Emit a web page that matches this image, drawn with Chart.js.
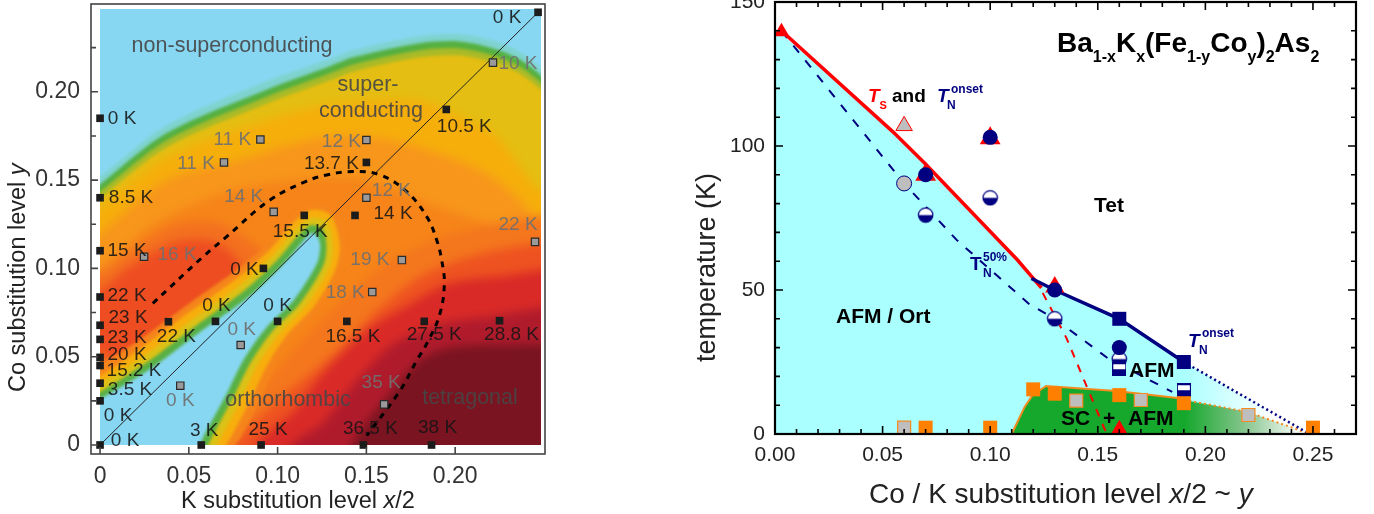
<!DOCTYPE html>
<html>
<head>
<meta charset="utf-8">
<title>phase diagrams</title>
<script src="https://cdn.jsdelivr.net/npm/chart.js@4/dist/chart.umd.min.js"></script>
<style>
  html, body { margin: 0; padding: 0; background: #fff; overflow: hidden; }
  canvas { position: absolute; display: block; }
  #map_clip { position: absolute; left: 100px; top: 9px; width: 441px; height: 436px; overflow: hidden; }
  #map_base { left: -100px; top: -29px; filter: blur(5px); }
  #map_ring { left: -100px; top: -29px; filter: blur(1.8px); }
  #map_over { left: 0; top: 0; }
  #phase { left: 600px; top: 0; }
</style>
</head>
<body>
<div id="map_clip">
  <canvas id="map_base" width="600" height="514"></canvas>
  <canvas id="map_ring" width="600" height="514"></canvas>
</div>
<canvas id="map_over" width="600" height="514"></canvas>
<canvas id="phase" width="774" height="514"></canvas>
<script>
// left panel, axis ticks
const mapXTicks = [0, 0.05, 0.10, 0.15, 0.20];
const mapXLabels = ['0', '0.05', '0.10', '0.15', '0.20'];
const mapYTicks = [0, 0.025, 0.05, 0.075, 0.10, 0.125, 0.15, 0.175, 0.20, 0.225];
const mapYLabels = ['0', '', '0.05', '', '0.10', '', '0.15', '', '0.20', ''];

// left panel, measured samples
const blackX = [0, 0, 0, 0, 0, 0, 0, 0, 0, 0, 0, 0.0385, 0.065, 0.10, 0.092, 0.057, 0.0907, 0.115, 0.195, 0.2467, 0.15, 0.1436, 0.139, 0.1826, 0.225, 0.1483, 0.1867];
const blackY = [0.185, 0.14, 0.11, 0.0838, 0.0678, 0.0598, 0.0496, 0.045, 0.035, 0.025, 0, 0.0698, 0.07, 0.07, 0.10, 0, 0, 0.13, 0.19, 0.245, 0.16, 0.13, 0.07, 0.07, 0.0704, 0, 0];
const blackLabels = ['0 K', '8.5 K', '15 K', '22 K', '23 K', '23 K', '20 K', '15.2 K', '3.5 K', '0 K', '0 K', '22 K', '0 K', '0 K', '0 K', '3 K', '25 K', '15.5 K', '10.5 K', '0 K', '13.7 K', '14 K', '16.5 K', '27.5 K', '28.8 K', '36.5 K', '38 K'];
const grayX = [0.0903, 0.0698, 0.0978, 0.0248, 0.0792, 0.0452, 0.15, 0.15, 0.2213, 0.245, 0.17, 0.1533, 0.16];
const grayY = [0.173, 0.16, 0.132, 0.1066, 0.0566, 0.0336, 0.1727, 0.14, 0.2165, 0.115, 0.1047, 0.0866, 0.023];
const grayLabels = ['11 K', '11 K', '14 K', '16 K', '0 K', '0 K', '12 K', '12 K', '10 K', '22 K', '19 K', '18 K', '35 K'];
const diagonalX = [0, 0.2467];
const diagonalY = [0, 0.245];
const domeX = [0.0297, 0.058, 0.0713, 0.0957, 0.1154, 0.1276, 0.1426, 0.1577, 0.1727, 0.184, 0.1896, 0.1924, 0.1939, 0.1914, 0.1849, 0.1783, 0.1689, 0.1502];
const domeY = [0.0802, 0.1066, 0.118, 0.1387, 0.149, 0.1529, 0.1548, 0.1529, 0.1434, 0.1293, 0.1161, 0.1047, 0.0912, 0.0742, 0.0591, 0.0477, 0.0307, 0.0053];

// left panel, colour contours, [x, y] along each boundary
// the "above" ones close over the top of the map, the rest close under it
const aboveTeal = [[-0.02, 0.138], [0, 0.152], [0.0375, 0.181], [0.0938, 0.206], [0.1295, 0.2185], [0.1426, 0.2235], [0.18, 0.2315], [0.2027, 0.2325], [0.2234, 0.2285], [0.2365, 0.2225], [0.2477, 0.214], [0.27, 0.19], [0.30, 0.30], [-0.05, 0.30]];
const aboveGreen = [[-0.02, 0.132], [0, 0.1475], [0.0375, 0.1766], [0.0938, 0.2012], [0.1295, 0.2145], [0.1426, 0.2195], [0.18, 0.2275], [0.2027, 0.2285], [0.2234, 0.224], [0.2365, 0.2182], [0.2477, 0.2098], [0.27, 0.187], [0.30, 0.30], [-0.05, 0.30]];
const aboveOlive = [[-0.02, 0.128], [0, 0.1435], [0.0375, 0.1726], [0.0938, 0.1972], [0.1295, 0.2105], [0.1426, 0.2155], [0.18, 0.2235], [0.2027, 0.2245], [0.2234, 0.22], [0.2365, 0.2142], [0.2477, 0.2058], [0.27, 0.183], [0.30, 0.30], [-0.05, 0.30]];
const aboveGold = [[-0.02, 0.124], [0, 0.1395], [0.0375, 0.1686], [0.0938, 0.1932], [0.1295, 0.2065], [0.1426, 0.2115], [0.18, 0.2195], [0.2027, 0.2205], [0.2234, 0.216], [0.2365, 0.2102], [0.2477, 0.2018], [0.27, 0.179], [0.30, 0.30], [-0.05, 0.30]];
const contourAmber = [[-0.02, 0.12], [0, 0.135], [0.0375, 0.163], [0.0938, 0.184], [0.1295, 0.193], [0.18, 0.195], [0.2, 0.187], [0.2215, 0.1765], [0.235, 0.16], [0.246, 0.146], [0.27, 0.13], [0.27, -0.02], [-0.02, -0.02]];
const contourOrange = [[-0.02, 0.105], [0, 0.12], [0.0375, 0.15], [0.0788, 0.1615], [0.13, 0.175], [0.17, 0.171], [0.214, 0.1557], [0.2365, 0.1387], [0.2477, 0.125], [0.27, 0.11], [0.27, -0.02], [-0.02, -0.02]];
const contourDeep = [[-0.02, 0.09], [0, 0.10], [0.03, 0.125], [0.07, 0.143], [0.11, 0.15], [0.15, 0.15], [0.19, 0.135], [0.22, 0.125], [0.25, 0.118], [0.27, 0.11], [0.27, -0.02], [-0.02, -0.02]];
const blobOrange = [[-0.02, 0.10], [0, 0.098], [0.015, 0.108], [0.04, 0.124], [0.065, 0.126], [0.085, 0.115], [0.10, 0.10], [0.09, 0.085], [0.05, 0.05], [0.02, 0.03], [-0.02, 0.035]];
const blobRed = [[-0.02, 0.085], [0, 0.088], [0.015, 0.10], [0.04, 0.114], [0.06, 0.116], [0.075, 0.108], [0.082, 0.092], [0.06, 0.06], [0.02, 0.04], [0, 0.052], [-0.02, 0.05]];
const lowerDeep = [[0.06, -0.02], [0.07, 0], [0.09, 0.03], [0.115, 0.06], [0.14, 0.085], [0.165, 0.105], [0.20, 0.12], [0.25, 0.13], [0.27, 0.13], [0.27, -0.02]];
const lowerBright = [[0.065, -0.02], [0.075, 0], [0.10, 0.025], [0.13, 0.05], [0.155, 0.075], [0.18, 0.095], [0.21, 0.107], [0.25, 0.115], [0.27, 0.118], [0.27, -0.02]];
const lowerRed = [[0.08, -0.02], [0.088, 0], [0.11, 0.02], [0.125, 0.04], [0.15, 0.065], [0.175, 0.08], [0.195, 0.091], [0.22, 0.095], [0.27, 0.095], [0.27, -0.02]];
const lowerCrimson = [[0.10, -0.02], [0.108, 0], [0.125, 0.012], [0.145, 0.037], [0.165, 0.057], [0.19, 0.068], [0.215, 0.072], [0.27, 0.074], [0.27, -0.02]];
const lowerDark = [[0.135, -0.02], [0.1426, 0.002], [0.1615, 0.027], [0.18, 0.048], [0.199, 0.0555], [0.2477, 0.0572], [0.27, 0.058], [0.27, -0.02]];
const holeOrange = [[-0.02, 0.038], [0, 0.046], [0.02, 0.058], [0.05, 0.08], [0.078, 0.10], [0.095, 0.115], [0.107, 0.129], [0.119, 0.137], [0.132, 0.134], [0.139, 0.114], [0.135, 0.097], [0.123, 0.077], [0.109, 0.061], [0.098, 0.044], [0.09, 0.025], [0.079, 0.004], [0.076, 0], [0.07, -0.02], [-0.02, -0.02]];
const holeAmber = [[-0.02, 0.03], [0, 0.039], [0.022, 0.054], [0.05, 0.075], [0.078, 0.095], [0.096, 0.111], [0.108, 0.125], [0.119, 0.133], [0.13, 0.13], [0.135, 0.113], [0.132, 0.098], [0.12, 0.078], [0.105, 0.062], [0.094, 0.045], [0.085, 0.026], [0.074, 0.005], [0.071, 0], [0.065, -0.02], [-0.02, -0.02]];
const holeGold = [[-0.02, 0.025], [0, 0.035], [0.024, 0.05], [0.052, 0.071], [0.08, 0.0915], [0.098, 0.108], [0.11, 0.122], [0.119, 0.1285], [0.128, 0.126], [0.131, 0.112], [0.129, 0.10], [0.116, 0.079], [0.101, 0.063], [0.089, 0.046], [0.08, 0.027], [0.069, 0.006], [0.066, 0], [0.06, -0.02], [-0.02, -0.02]];
const holeGreen = [[-0.02, 0.02], [0, 0.03], [0.026, 0.0465], [0.054, 0.0675], [0.082, 0.088], [0.10, 0.105], [0.112, 0.119], [0.119, 0.1245], [0.1255, 0.122], [0.1275, 0.112], [0.1255, 0.101], [0.1125, 0.08], [0.0975, 0.065], [0.085, 0.047], [0.0755, 0.028], [0.064, 0.0062], [0.061, 0], [0.055, -0.02], [-0.02, -0.02]];
const holeBlue = [[-0.02, 0.016], [0, 0.026], [0.0282, 0.043], [0.0563, 0.064], [0.0845, 0.0845], [0.1033, 0.1025], [0.114, 0.115], [0.119, 0.12], [0.1225, 0.118], [0.124, 0.112], [0.122, 0.1025], [0.1088, 0.0817], [0.0938, 0.0667], [0.0807, 0.048], [0.0713, 0.029], [0.059, 0.0062], [0.0563, 0], [0.05, -0.02], [-0.02, -0.02]];

// right panel, axis ticks
const phaseXTicks = [0, 0.01, 0.02, 0.03, 0.04, 0.05, 0.06, 0.07, 0.08, 0.09, 0.10, 0.11, 0.12, 0.13, 0.14, 0.15, 0.16, 0.17, 0.18, 0.19, 0.20, 0.21, 0.22, 0.23, 0.24, 0.25, 0.26, 0.27];
const phaseXLabels = ['0.00', '', '', '', '', '0.05', '', '', '', '', '0.10', '', '', '', '', '0.15', '', '', '', '', '0.20', '', '', '', '', '0.25', '', ''];
const phaseYTicks = [0, 10, 20, 30, 40, 50, 60, 70, 80, 90, 100, 110, 120, 130, 140, 150];
const phaseYLabels = ['0', '', '', '', '', '50', '', '', '', '', '100', '', '', '', '', '150'];

// right panel, phase lines
const tsLine = [[0.003, 140], [0.0547, 105], [0.0696, 94], [0.1127, 60.4], [0.1238, 50.7]];
const tnLine = [[0.1192, 54], [0.13, 50], [0.16, 40], [0.19, 25]];
const tnTail = [[0.19, 25], [0.2468, 0.7]];
const tn50Line = [[0.003, 140], [0.06, 87], [0.0844, 67.4], [0.1183, 45], [0.13, 40], [0.1545, 26.4], [0.1846, 14.6]];
const tsDrop = [[0.1244, 49], [0.1354, 33.4], [0.153, 2], [0.1545, 0]];
const afmArea = [[0, 141], [0.0547, 105], [0.0696, 94], [0.1127, 60.4], [0.1192, 54], [0.13, 50], [0.16, 40], [0.19, 25], [0.2468, 0.7], [0.25, 0], [0, 0]];
const scLine = [[0.11, 0], [0.116, 9.4], [0.1197, 13.5], [0.126, 16.7], [0.1586, 14.9], [0.188, 12.4], [0.1925, 11.5]];
const scTail = [[0.1925, 11.5], [0.2194, 7.7], [0.2435, 1.4], [0.247, 0]];
const scArea = [[0.11, 0], [0.116, 9.4], [0.1197, 13.5], [0.126, 16.7], [0.1586, 14.9], [0.188, 12.4], [0.1925, 11.5], [0.2194, 7.7], [0.2435, 1.4], [0.247, 0]];

// right panel, markers
const tsTriX = [0.003, 0.07, 0.10, 0.13, 0.16];
const tsTriY = [139.7, 90, 102.7, 51, 1.8];
const tsTriGrayX = [0.06];
const tsTriGrayY = [107];
const tnCircleX = [0.07, 0.10, 0.13, 0.16];
const tnCircleY = [90, 103, 50, 30];
const tnCircleGrayX = [0.06];
const tnCircleGrayY = [87];
const tn50CircleX = [0.07, 0.10, 0.13, 0.16];
const tn50CircleY = [76, 82, 40, 26];
const tnSquareX = [0.16, 0.19];
const tnSquareY = [40, 25];
const tn50SquareX = [0.16, 0.19];
const tn50SquareY = [22.5, 15.2];
const tcSquareX = [0.07, 0.10, 0.12, 0.13, 0.16, 0.19, 0.25];
const tcSquareY = [2.2, 2.2, 15.5, 14, 13.5, 10.7, 2.2];
const tcGrayX = [0.06, 0.14, 0.17, 0.22];
const tcGrayY = [2.2, 11.6, 11.8, 6.6];

const NAVY = '#000080';
const toXY = (pts) => pts.map((p) => ({x: p[0], y: p[1]}));
const zip = (xs, ys) => xs.map((x, i) => ({x: x, y: ys[i]}));

// axis sizes are fixed and the half-label margins dropped, so the plot box lands where it should
const fixWidth = (w) => (s) => { s.width = w; s.paddingTop = 0; s.paddingBottom = 0; };
const fixHeight = (h) => (s) => { s.height = h; s.paddingLeft = 0; s.paddingRight = 0; };

// ---------- heat layers, two canvases under the overlay ----------
// base is blurred wide for the soft colour fields, ring keeps the narrow green edges
const baseLayers = [
  [contourAmber, '#f6ae0b'], [contourOrange, '#f7961b'], [contourDeep, '#f68418'],
  [blobOrange, '#f3701f'], [blobRed, '#ee4d21'],
  [lowerDeep, '#f4761d'], [lowerBright, '#ee5220'], [lowerRed, '#d92a27'], [lowerCrimson, '#b01b2c'], [lowerDark, '#7a1420']
];
const ringLayers = [
  [aboveGold, '#a8ba28'], [aboveOlive, '#55b040'], [aboveGreen, '#7fd3cf'], [aboveTeal, '#87d7f2'],
  [holeOrange, '#f5851b'], [holeAmber, '#f7ae0c'], [holeGold, '#dcc116'], [holeGreen, '#58b044'], [holeBlue, '#87d7f2']
];

function heatChart(id, layers, ground) {
  // these canvases reach past the map on every side, so the blur has no edge inside it
  return new Chart(document.getElementById(id), {
    type: 'scatter',
    data: {
      datasets: layers.map((l, i) => ({
        data: toXY(l[0]), showLine: true, fill: 'shape', backgroundColor: l[1], borderWidth: 0,
        pointRadius: 0, tension: 0.3, order: -i
      }))
    },
    plugins: [{
      id: 'ground',
      beforeDatasetsDraw(chart) {
        if (!ground) return;
        chart.ctx.fillStyle = ground;
        chart.ctx.fillRect(0, 0, 600, 514);
      }
    }],
    options: {
      responsive: false, animation: false,
      layout: {autoPadding: false, padding: {top: 5.8, right: 20.5, left: 0, bottom: 0}},
      elements: {line: {capBezierPoints: false}},
      scales: {
        x: {type: 'linear', min: -0.02, max: 0.27, grid: {display: false, drawTicks: false}, border: {display: false}, ticks: {display: false}, afterFit: fixHeight(13.7)},
        y: {type: 'linear', min: -0.02, max: 0.26, grid: {display: false, drawTicks: false}, border: {display: false}, ticks: {display: false}, afterFit: fixWidth(64.5)}
      },
      plugins: {legend: {display: false}, tooltip: {enabled: false}}
    }
  });
}
heatChart('map_base', baseLayers, '#e4be12');
heatChart('map_ring', ringLayers, null);

// ---------- left overlay ----------
const blackShift = [[22, 0], [31, 0], [27, 0], [27, -1], [28, -7], [27, -2], [27, -3], [34, 5], [30, 7], [18, 15], [25, -4], [8, 15], [1, -16], [0, -16], [-19, 1], [3, -14], [7, -15], [-4, 16], [18, 17], [-31, 5], [-35, 1], [38, -2], [6, 15], [10, 13], [12, 14], [7, -16], [6, -17]];
const grayShift = [[-28, 0], [-28, 1], [-30, -15], [33, -2], [1, -15], [0, 15], [-25, 2], [25, -7], [25, 1], [-17, -17], [-32, 0], [-27, 1], [-3, -22]];

function textRun(c, x, y, parts) {
  parts.forEach((p) => {
    c.font = p[1] + ' "Liberation Sans"';
    if (p[2]) c.fillStyle = p[2];
    c.fillText(p[0], x, y + (p[3] || 0));
    x += c.measureText(p[0]).width;
  });
}

const mapText = {
  id: 'mapText',
  afterDatasetsDraw(chart) {
    const c = chart.ctx, sx = chart.scales.x, sy = chart.scales.y, a = chart.chartArea;
    c.save();
    // frame and ticks
    c.strokeStyle = '#444'; c.lineWidth = 1.6;
    c.strokeRect(a.left, a.top, a.width, a.height);
    c.beginPath();
    mapXTicks.forEach((v) => { const p = sx.getPixelForValue(v); c.moveTo(p, a.bottom); c.lineTo(p, a.bottom - 7); });
    mapYTicks.forEach((v, i) => {
      const p = sy.getPixelForValue(v);
      c.moveTo(a.left, p); c.lineTo(a.left + (mapYLabels[i] ? 7 : 5), p);
    });
    c.stroke();
    // region names
    c.textAlign = 'center'; c.textBaseline = 'middle';
    c.font = '21.5px "Liberation Sans"'; c.fillStyle = 'rgba(70,70,70,0.9)';
    c.fillText('non-superconducting', 232, 46);
    c.fillText('super-', 368, 85);
    c.fillText('conducting', 371, 111);
    c.fillText('orthorhombic', 288, 400);
    c.fillText('tetragonal', 470, 398);
    // temperature labels
    c.font = '19px "Liberation Sans"';
    c.fillStyle = 'rgba(20,20,20,0.88)';
    blackLabels.forEach((t, i) => {
      c.fillText(t, sx.getPixelForValue(blackX[i]) + blackShift[i][0], sy.getPixelForValue(blackY[i]) + blackShift[i][1]);
    });
    c.fillStyle = 'rgba(112,112,112,0.92)';
    grayLabels.forEach((t, i) => {
      c.fillText(t, sx.getPixelForValue(grayX[i]) + grayShift[i][0], sy.getPixelForValue(grayY[i]) + grayShift[i][1]);
    });
    // axis titles
    c.textAlign = 'left'; c.textBaseline = 'alphabetic'; c.fillStyle = '#222';
    textRun(c, 181, 508, [['K substitution level ', '23.5px'], ['x', 'italic 23.5px'], ['/2', '23.5px']]);
    c.translate(25, 392);
    c.rotate(-Math.PI / 2);
    textRun(c, 0, 0, [['Co substitution level ', '23.5px'], ['y', 'italic 23.5px']]);
    c.restore();
  }
};

new Chart(document.getElementById('map_over'), {
  type: 'scatter',
  data: {
    datasets: [
      {data: zip(diagonalX, diagonalY), showLine: true, borderColor: '#222', borderWidth: 1, pointRadius: 0, order: 4},
      {data: zip(domeX, domeY), showLine: true, borderColor: '#000', borderWidth: 3, borderDash: [6, 6], tension: 0.4, pointRadius: 0, order: 3},
      {data: zip(grayX, grayY), pointStyle: 'rect', pointRadius: 5.2, pointBackgroundColor: '#9a9a9a', pointBorderColor: '#2a2a2a', pointBorderWidth: 1.2, order: 2},
      {data: zip(blackX, blackY), pointStyle: 'rect', pointRadius: 5.4, pointBackgroundColor: '#1c1c1c', pointBorderWidth: 0, order: 1}
    ]
  },
  plugins: [mapText],
  options: {
    responsive: false, animation: false,
    layout: {autoPadding: false, padding: {top: 4, right: 55, left: 0, bottom: 0}},
    scales: {
      x: {
        type: 'linear', min: -0.0051, max: 0.2506,
        grid: {display: false, drawTicks: false}, border: {display: false},
        afterBuildTicks: (s) => { s.ticks = mapXTicks.map((v) => ({value: v})); },
        afterFit: fixHeight(60),
        ticks: {
          autoSkip: false, maxRotation: 0, minRotation: 0, padding: 9, color: '#333',
          font: {family: 'Liberation Sans', size: 23},
          callback: (v, i) => mapXLabels[i]
        }
      },
      y: {
        type: 'linear', min: -0.0051, max: 0.2497,
        grid: {display: false, drawTicks: false}, border: {display: false},
        afterBuildTicks: (s) => { s.ticks = mapYTicks.map((v) => ({value: v})); },
        afterFit: fixWidth(91),
        ticks: {
          autoSkip: false, padding: 11, color: '#333',
          font: {family: 'Liberation Sans', size: 23},
          callback: (v, i) => mapYLabels[i]
        }
      }
    },
    plugins: {legend: {display: false}, tooltip: {enabled: false}}
  }
});

// ---------- right panel ----------
// half filled markers, white on top and navy below
function halfCircle() {
  const cv = document.createElement('canvas');
  cv.width = 17; cv.height = 17;
  const c = cv.getContext('2d');
  c.fillStyle = '#fff';
  c.beginPath(); c.arc(8.5, 8.5, 7.2, 0, Math.PI * 2); c.fill();
  c.fillStyle = NAVY;
  c.beginPath(); c.arc(8.5, 8.5, 7.2, 0, Math.PI); c.fill();
  c.strokeStyle = NAVY; c.lineWidth = 1.2;
  c.beginPath(); c.arc(8.5, 8.5, 7.2, 0, Math.PI * 2); c.stroke();
  return cv;
}
function halfSquare() {
  const cv = document.createElement('canvas');
  cv.width = 14; cv.height = 14;
  const c = cv.getContext('2d');
  c.fillStyle = NAVY; c.fillRect(0, 0, 14, 14);
  c.fillStyle = '#fff'; c.fillRect(1, 2, 12, 5);
  return cv;
}

const afmFill = (ctx) => {
  const sx = ctx.chart.scales.x, a = ctx.chart.chartArea;
  if (!a) return '#aaffff';
  const g = ctx.chart.ctx.createLinearGradient(sx.getPixelForValue(0.19), 0, sx.getPixelForValue(0.232), 0);
  g.addColorStop(0, '#aaffff');
  g.addColorStop(1, '#ffffff');
  return g;
};
const scFill = (ctx) => {
  const sx = ctx.chart.scales.x, a = ctx.chart.chartArea;
  if (!a) return '#16a82c';
  const g = ctx.chart.ctx.createLinearGradient(sx.getPixelForValue(0.1905), 0, sx.getPixelForValue(0.245), 0);
  g.addColorStop(0, '#16a82c');
  g.addColorStop(0.5, '#84c48c');
  g.addColorStop(1, '#ffffff');
  return g;
};

const phaseSets = [
  {data: toXY(afmArea), showLine: true, fill: 'shape', backgroundColor: afmFill, borderWidth: 0, pointRadius: 0},
  {data: toXY(scArea), showLine: true, fill: 'shape', backgroundColor: scFill, borderWidth: 0, pointRadius: 0},
  {data: toXY(tn50Line), showLine: true, borderColor: NAVY, borderWidth: 2, borderDash: [9, 10], pointRadius: 0},
  {data: toXY(tsDrop), showLine: true, borderColor: '#f00', borderWidth: 2, borderDash: [8, 8], pointRadius: 0},
  {data: toXY(scLine), showLine: true, borderColor: '#f58a1f', borderWidth: 2, pointRadius: 0},
  {data: toXY(scTail), showLine: true, borderColor: '#f58a1f', borderWidth: 2, borderDash: [2, 3], pointRadius: 0},
  {data: toXY(tnTail), showLine: true, borderColor: NAVY, borderWidth: 2.5, borderDash: [2, 3], pointRadius: 0},
  {data: toXY(tsLine), showLine: true, borderColor: '#f00', borderWidth: 3.5, pointRadius: 0},
  {data: toXY(tnLine), showLine: true, borderColor: NAVY, borderWidth: 3.5, pointRadius: 0},
  {data: zip(tsTriX, tsTriY), pointStyle: 'triangle', pointRadius: [9, 12, 12, 11, 9], pointBackgroundColor: '#f00', pointBorderWidth: 0},
  {data: zip(tsTriGrayX, tsTriGrayY), pointStyle: 'triangle', pointRadius: 9.5, pointBackgroundColor: '#bebebe', pointBorderColor: '#f00', pointBorderWidth: 1},
  {data: zip(tn50CircleX, tn50CircleY), pointStyle: halfCircle(), pointRadius: 8},
  {data: zip(tn50SquareX, tn50SquareY), pointStyle: halfSquare(), pointRadius: 8},
  {data: zip(tnCircleX, tnCircleY), pointStyle: 'circle', pointRadius: 7.5, pointBackgroundColor: NAVY, pointBorderWidth: 0},
  {data: zip(tnCircleGrayX, tnCircleGrayY), pointStyle: 'circle', pointRadius: 7.5, pointBackgroundColor: '#bebebe', pointBorderColor: NAVY, pointBorderWidth: 1},
  {data: zip(tnSquareX, tnSquareY), pointStyle: 'rect', pointRadius: 9.9, pointBackgroundColor: NAVY, pointBorderWidth: 0},
  {data: zip(tcSquareX, tcSquareY), pointStyle: 'rect', pointRadius: 9.9, pointBackgroundColor: '#ff8000', pointBorderWidth: 0},
  {data: zip(tcGrayX, tcGrayY), pointStyle: 'rect', pointRadius: 9.2, pointBackgroundColor: '#bebebe', pointBorderColor: '#f58a1f', pointBorderWidth: 1.2}
];
phaseSets.forEach((d, i) => { d.order = -i; d.clip = d.fill ? undefined : false; });

const phaseText = {
  id: 'phaseText',
  afterDatasetsDraw(chart) {
    const c = chart.ctx, sx = chart.scales.x, sy = chart.scales.y, a = chart.chartArea;
    c.save();
    // frame with inward ticks on all four sides
    c.strokeStyle = '#000'; c.lineWidth = 2.2;
    c.strokeRect(a.left, a.top, a.width, a.height);
    c.lineWidth = 1.6;
    c.beginPath();
    phaseXTicks.forEach((v, i) => {
      const p = sx.getPixelForValue(v), len = phaseXLabels[i] ? 8 : 5;
      c.moveTo(p, a.bottom); c.lineTo(p, a.bottom - len);
      c.moveTo(p, a.top); c.lineTo(p, a.top + len);
    });
    phaseYTicks.forEach((v, i) => {
      const p = sy.getPixelForValue(v), len = phaseYLabels[i] ? 8 : 5;
      c.moveTo(a.left, p); c.lineTo(a.left + len, p);
      c.moveTo(a.right, p); c.lineTo(a.right - len, p);
    });
    c.stroke();

    // this canvas starts at x = 600, the numbers below are page pixels
    c.translate(-600, 0);
    c.textAlign = 'left'; c.textBaseline = 'alphabetic';
    textRun(c, 1057, 52, [
      ['Ba', 'bold 28px', '#000'], ['1-x', 'bold 16px', '#000', 10], ['K', 'bold 28px'], ['x', 'bold 16px', '#000', 10],
      ['(Fe', 'bold 28px'], ['1-y', 'bold 16px', '#000', 10], ['Co', 'bold 28px'], ['y', 'bold 16px', '#000', 10],
      [')', 'bold 28px'], ['2', 'bold 16px', '#000', 10], ['As', 'bold 28px'], ['2', 'bold 16px', '#000', 10]
    ]);
    textRun(c, 868, 102, [['T', 'italic bold 19px', '#f00'], ['S', 'bold 11px', '#f00', 7]]);
    textRun(c, 892, 102, [['and', 'bold 19px', '#000']]);
    textRun(c, 937, 102, [['T', 'italic bold 19px', NAVY]]);
    textRun(c, 951, 93, [['onset', 'bold 12px', NAVY]]);
    textRun(c, 947, 109, [['N', 'bold 12px', NAVY]]);
    textRun(c, 970, 270, [['T', 'bold 19px', NAVY]]);
    textRun(c, 983, 261, [['50%', 'bold 12px', NAVY]]);
    textRun(c, 983, 277, [['N', 'bold 12px', NAVY]]);
    textRun(c, 1188, 347, [['T', 'italic bold 19px', NAVY]]);
    textRun(c, 1202, 337, [['onset', 'bold 12px', NAVY]]);
    textRun(c, 1199, 354, [['N', 'bold 12px', NAVY]]);
    textRun(c, 1094, 212, [['Tet', 'bold 21px', '#000']]);
    textRun(c, 836, 323, [['AFM / Ort', 'bold 21px', '#000']]);
    textRun(c, 1129, 377, [['AFM', 'bold 21px', '#000']]);
    textRun(c, 1061, 425, [['SC', 'bold 21px', '#000']]);
    textRun(c, 1103, 425, [['+', 'bold 21px', '#000']]);
    textRun(c, 1128, 425, [['AFM', 'bold 21px', '#000']]);
    // axis titles
    c.fillStyle = '#222';
    textRun(c, 869, 503, [['Co / K substitution level ', '28px'], ['x', 'italic 28px'], ['/2 ~ ', '28px'], ['y', 'italic 28px']]);
    c.translate(715, 362);
    c.rotate(-Math.PI / 2);
    textRun(c, 0, 0, [['temperature (K)', '27px']]);
    c.restore();
  }
};

new Chart(document.getElementById('phase'), {
  type: 'scatter',
  data: {datasets: phaseSets},
  plugins: [phaseText],
  options: {
    responsive: false, animation: false,
    layout: {autoPadding: false, padding: {top: 2, right: 18, left: 0, bottom: 0}},
    elements: {line: {tension: 0}},
    scales: {
      x: {
        type: 'linear', min: 0, max: 0.27,
        grid: {display: false, drawTicks: false}, border: {display: false},
        afterBuildTicks: (s) => { s.ticks = phaseXTicks.map((v) => ({value: v})); },
        afterFit: fixHeight(80),
        ticks: {
          autoSkip: false, maxRotation: 0, minRotation: 0, padding: 9, color: '#222',
          font: {family: 'Liberation Sans', size: 21},
          callback: (v, i) => phaseXLabels[i]
        }
      },
      y: {
        type: 'linear', min: 0, max: 150,
        grid: {display: false, drawTicks: false}, border: {display: false},
        afterBuildTicks: (s) => { s.ticks = phaseYTicks.map((v) => ({value: v})); },
        afterFit: fixWidth(175),
        ticks: {
          autoSkip: false, padding: 10, color: '#222',
          font: {family: 'Liberation Sans', size: 21},
          callback: (v, i) => phaseYLabels[i]
        }
      }
    },
    plugins: {legend: {display: false}, tooltip: {enabled: false}}
  }
});
</script>
</body>
</html>
